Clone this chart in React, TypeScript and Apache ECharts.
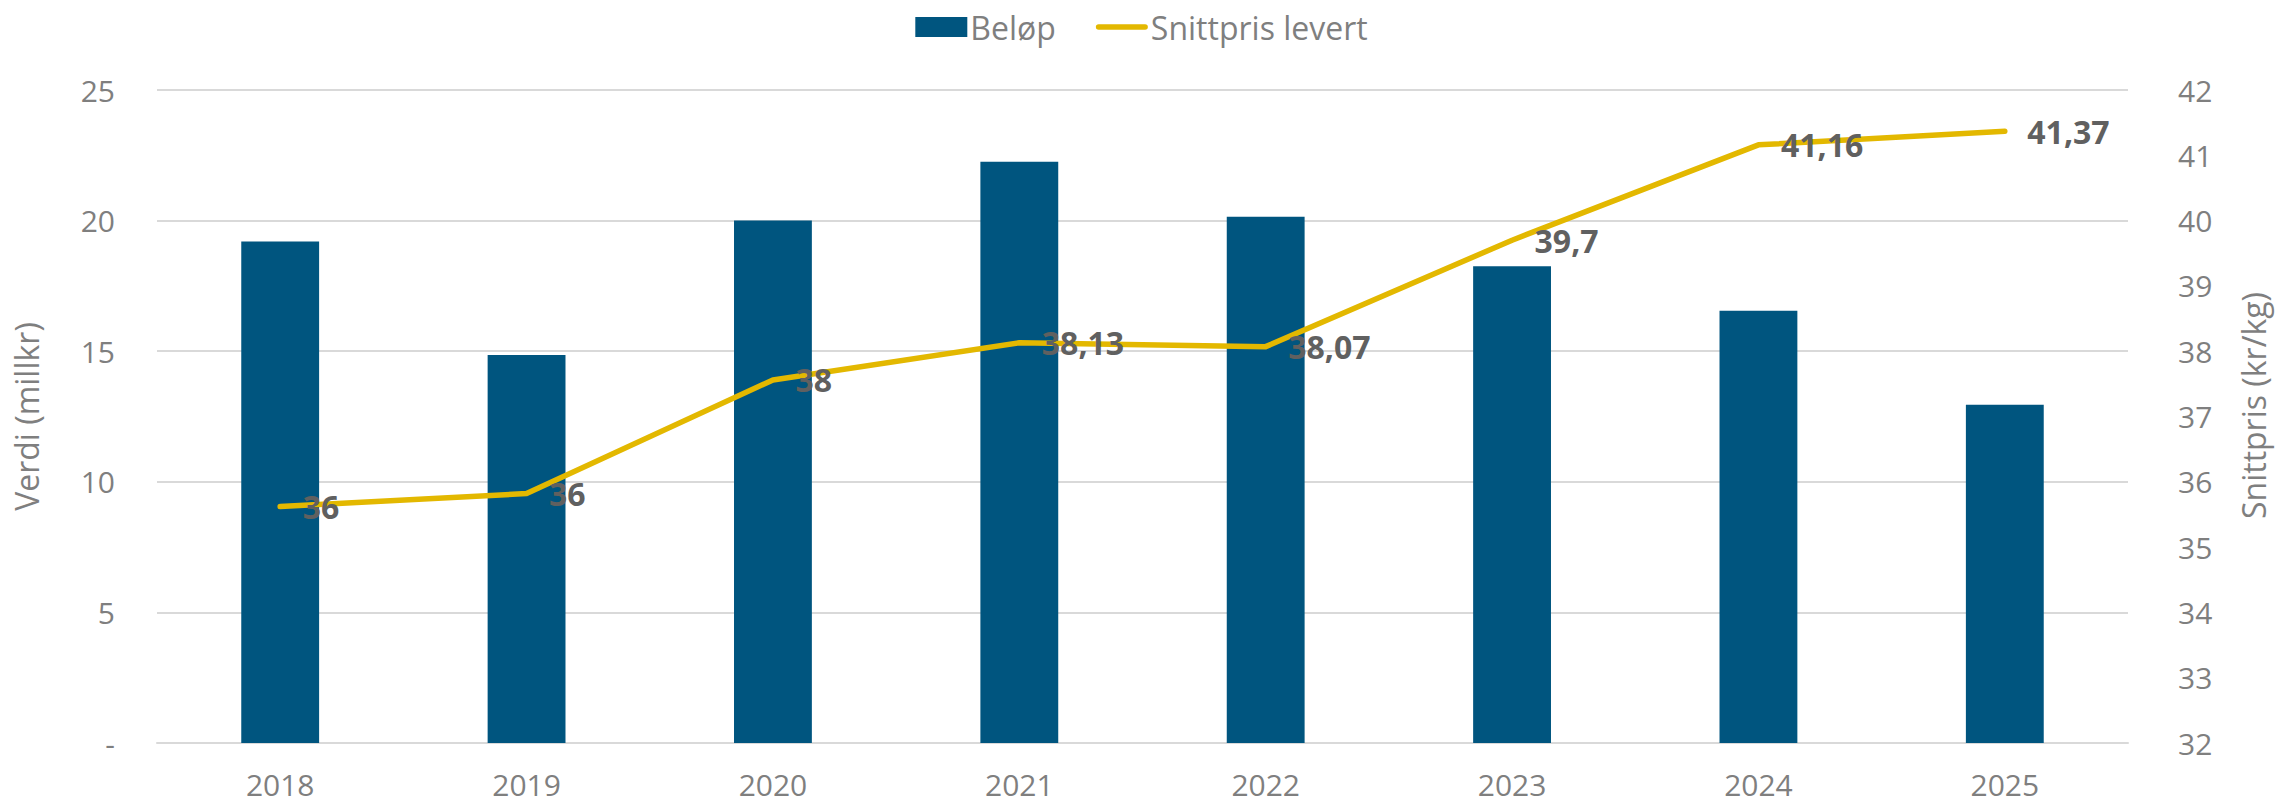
import React, { useEffect, useRef } from "react";
import * as echarts from "echarts";

const years = ["2018", "2019", "2020", "2021", "2022", "2023", "2024", "2025"];
const belop = [19.2, 14.85, 20.0, 22.25, 20.15, 18.25, 16.55, 12.95];
const snittpris = [35.62, 35.82, 37.56, 38.13, 38.07, 39.7, 41.16, 41.37];
const snittprisLabels = ["36", "36", "38", "38,13", "38,07", "39,7", "41,16", "41,37"];

const FONT = "'Open Sans', 'Noto Sans', sans-serif";
const TICK = "#7F7F7F";
const LINE_ICON = "path://M3,0 H53 A3,3 0 0 1 53,6 H3 A3,3 0 0 1 3,0 Z";

export default function App() {
  const ref = useRef<HTMLDivElement>(null);
  useEffect(() => {
    if (!ref.current) return;
    const chart = echarts.init(ref.current, undefined, { renderer: "svg" });
    chart.setOption({
      animation: false,
      textStyle: { fontFamily: FONT },
      legend: {
        top: 6,
        left: "center",
        itemWidth: 52,
        itemHeight: 20,
        itemGap: 40,
        symbolKeepAspect: true,
        textStyle: { fontFamily: FONT, fontSize: 32, color: TICK, padding: [0, 0, 0, -2] },
        data: [
          { name: "Beløp", icon: "rect" },
          { name: "Snittpris levert", icon: LINE_ICON, itemStyle: { color: "#E3B800" } },
        ],
      },
      grid: { left: 157, right: 155, top: 90, bottom: 60, containLabel: false },
      xAxis: {
        type: "category",
        data: years,
        axisTick: { show: false },
        axisLine: { lineStyle: { color: "#D9D9D9", width: 2 } },
        axisLabel: { color: TICK, fontSize: 30, margin: 26, fontFamily: FONT },
      },
      yAxis: [
        {
          type: "value",
          min: 0,
          max: 25,
          interval: 5,
          name: "Verdi (millkr)",
          nameLocation: "middle",
          nameGap: 115,
          nameTextStyle: { color: TICK, fontSize: 32, fontFamily: FONT },
          axisLine: { show: false },
          axisTick: { show: false },
          splitLine: { lineStyle: { color: "#D9D9D9", width: 2 } },
          axisLabel: {
            color: TICK,
            fontSize: 30,
            margin: 42,
            fontFamily: FONT,
            formatter: (v: number) => (v === 0 ? "-" : String(v)),
          },
        },
        {
          type: "value",
          min: 32,
          max: 42,
          interval: 1,
          name: "Snittpris (kr/kg)",
          nameLocation: "middle",
          nameGap: 109,
          nameTextStyle: { color: TICK, fontSize: 32, fontFamily: FONT, padding: [0, 0, 0, 22] },
          axisLine: { show: false },
          axisTick: { show: false },
          splitLine: { show: false },
          axisLabel: { color: TICK, fontSize: 30, margin: 50, fontFamily: FONT },
        },
      ],
      series: [
        {
          name: "Beløp",
          type: "bar",
          data: belop,
          barWidth: "31.6%",
          itemStyle: { color: "#00557F" },
        },
        {
          name: "Snittpris levert",
          type: "line",
          yAxisIndex: 1,
          data: snittpris,
          symbol: "circle",
          symbolSize: 1,
          showSymbol: true,
          lineStyle: { color: "#E3B800", width: 5.5, cap: "round", join: "round" },
          itemStyle: { color: "#E3B800" },
          label: {
            show: true,
            position: "right",
            distance: 22,
            color: "#606060",
            fontSize: 32,
            fontWeight: "bold",
            fontFamily: FONT,
            formatter: (p: any) => snittprisLabels[p.dataIndex],
          },
        },
      ],
    });
    return () => chart.dispose();
  }, []);
  return (
    <div
      ref={ref}
      style={{ position: "fixed", left: 0, top: 0, width: 2283, height: 803, background: "#fff" }}
    />
  );
}
